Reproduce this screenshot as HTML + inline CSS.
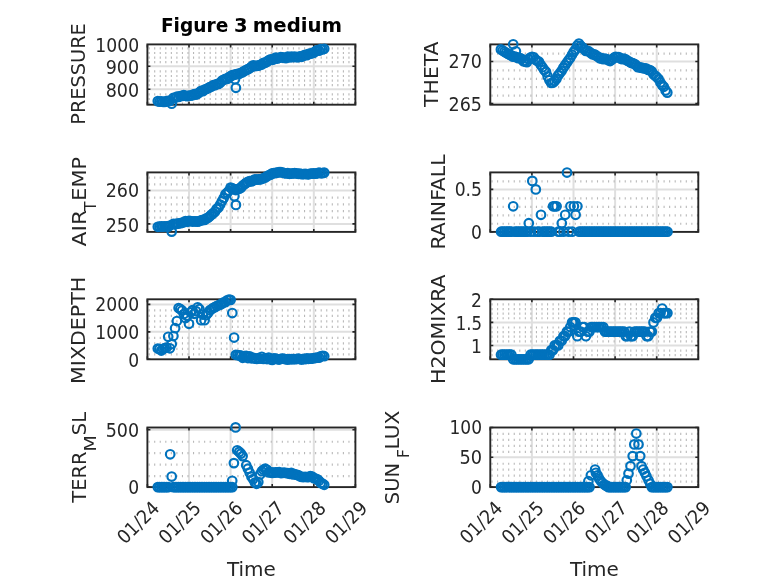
<!DOCTYPE html>
<html><head><meta charset="utf-8"><title>Figure 3 medium</title>
<style>html,body{margin:0;padding:0;background:#fff}svg{display:block}</style></head>
<body>
<svg width="778" height="583" viewBox="0 0 778 583" font-family="'DejaVu Sans Condensed','DejaVu Sans','Liberation Sans',sans-serif" fill="#262626">
<rect width="778" height="583" fill="#fff"/>
<g stroke="#dfdfdf" stroke-width="2"><line x1="189.00" y1="44.40" x2="189.00" y2="104.70"/><line x1="230.60" y1="44.40" x2="230.60" y2="104.70"/><line x1="272.20" y1="44.40" x2="272.20" y2="104.70"/><line x1="313.80" y1="44.40" x2="313.80" y2="104.70"/><line x1="147.40" y1="66.30" x2="355.40" y2="66.30"/><line x1="147.40" y1="89.30" x2="355.40" y2="89.30"/></g>
<g stroke="#b8b8b8" stroke-width="2.2" stroke-dasharray="1.1 4.45"><line x1="148.60" y1="48.40" x2="355.40" y2="48.40"/><line x1="148.60" y1="53.00" x2="355.40" y2="53.00"/><line x1="148.60" y1="57.60" x2="355.40" y2="57.60"/><line x1="148.60" y1="62.20" x2="355.40" y2="62.20"/><line x1="148.60" y1="71.40" x2="355.40" y2="71.40"/><line x1="148.60" y1="76.00" x2="355.40" y2="76.00"/><line x1="148.60" y1="80.60" x2="355.40" y2="80.60"/><line x1="148.60" y1="85.20" x2="355.40" y2="85.20"/><line x1="148.60" y1="94.40" x2="355.40" y2="94.40"/><line x1="148.60" y1="99.00" x2="355.40" y2="99.00"/><line x1="148.60" y1="103.60" x2="355.40" y2="103.60"/></g>
<path d="M147.40 104.70v-3M147.40 44.40v3M189.00 104.70v-3M189.00 44.40v3M230.60 104.70v-3M230.60 44.40v3M272.20 104.70v-3M272.20 44.40v3M313.80 104.70v-3M313.80 44.40v3M355.40 104.70v-3M355.40 44.40v3M147.40 66.30h3M355.40 66.30h-3M147.40 89.30h3M355.40 89.30h-3" stroke="#262626" stroke-width="1.6" fill="none"/>
<rect x="147.40" y="44.40" width="208.00" height="60.30" fill="none" stroke="#262626" stroke-width="1.9"/>
<g fill="none" stroke="#0072BD" stroke-width="2.15"><circle cx="157.8" cy="101.1" r="4.3"/><circle cx="159.5" cy="101.6" r="4.3"/><circle cx="161.3" cy="101.4" r="4.3"/><circle cx="163.0" cy="101.8" r="4.3"/><circle cx="164.7" cy="101.9" r="4.3"/><circle cx="166.5" cy="101.1" r="4.3"/><circle cx="168.2" cy="100.9" r="4.3"/><circle cx="169.9" cy="100.9" r="4.3"/><circle cx="171.7" cy="103.7" r="4.3"/><circle cx="173.4" cy="97.8" r="4.3"/><circle cx="175.1" cy="97.8" r="4.3"/><circle cx="176.9" cy="96.7" r="4.3"/><circle cx="178.6" cy="96.9" r="4.3"/><circle cx="180.3" cy="96.0" r="4.3"/><circle cx="182.1" cy="95.9" r="4.3"/><circle cx="183.8" cy="95.2" r="4.3"/><circle cx="185.5" cy="95.8" r="4.3"/><circle cx="187.3" cy="96.1" r="4.3"/><circle cx="189.0" cy="95.5" r="4.3"/><circle cx="190.7" cy="95.6" r="4.3"/><circle cx="192.5" cy="95.2" r="4.3"/><circle cx="194.2" cy="94.0" r="4.3"/><circle cx="195.9" cy="94.6" r="4.3"/><circle cx="197.7" cy="93.6" r="4.3"/><circle cx="199.4" cy="92.3" r="4.3"/><circle cx="201.1" cy="90.9" r="4.3"/><circle cx="202.9" cy="91.1" r="4.3"/><circle cx="204.6" cy="89.6" r="4.3"/><circle cx="206.3" cy="89.0" r="4.3"/><circle cx="208.1" cy="88.2" r="4.3"/><circle cx="209.8" cy="87.1" r="4.3"/><circle cx="211.5" cy="86.5" r="4.3"/><circle cx="213.3" cy="85.2" r="4.3"/><circle cx="215.0" cy="85.1" r="4.3"/><circle cx="216.7" cy="84.0" r="4.3"/><circle cx="218.5" cy="83.9" r="4.3"/><circle cx="220.2" cy="82.8" r="4.3"/><circle cx="221.9" cy="80.7" r="4.3"/><circle cx="223.7" cy="79.8" r="4.3"/><circle cx="225.4" cy="78.9" r="4.3"/><circle cx="227.1" cy="78.9" r="4.3"/><circle cx="228.9" cy="77.2" r="4.3"/><circle cx="230.6" cy="76.4" r="4.3"/><circle cx="232.3" cy="75.0" r="4.3"/><circle cx="234.1" cy="74.8" r="4.3"/><circle cx="235.8" cy="74.3" r="4.3"/><circle cx="237.5" cy="73.9" r="4.3"/><circle cx="239.3" cy="73.8" r="4.3"/><circle cx="241.0" cy="72.8" r="4.3"/><circle cx="242.7" cy="72.2" r="4.3"/><circle cx="244.5" cy="70.8" r="4.3"/><circle cx="246.2" cy="70.1" r="4.3"/><circle cx="247.9" cy="69.1" r="4.3"/><circle cx="249.7" cy="68.3" r="4.3"/><circle cx="251.4" cy="66.9" r="4.3"/><circle cx="253.1" cy="65.3" r="4.3"/><circle cx="254.9" cy="66.0" r="4.3"/><circle cx="256.6" cy="65.9" r="4.3"/><circle cx="258.3" cy="65.6" r="4.3"/><circle cx="260.1" cy="64.9" r="4.3"/><circle cx="261.8" cy="64.4" r="4.3"/><circle cx="263.5" cy="62.8" r="4.3"/><circle cx="265.3" cy="62.8" r="4.3"/><circle cx="267.0" cy="61.6" r="4.3"/><circle cx="268.7" cy="60.4" r="4.3"/><circle cx="270.5" cy="59.4" r="4.3"/><circle cx="272.2" cy="59.8" r="4.3"/><circle cx="273.9" cy="59.3" r="4.3"/><circle cx="275.7" cy="57.6" r="4.3"/><circle cx="277.4" cy="58.5" r="4.3"/><circle cx="279.1" cy="57.8" r="4.3"/><circle cx="280.9" cy="57.2" r="4.3"/><circle cx="282.6" cy="57.3" r="4.3"/><circle cx="284.3" cy="57.9" r="4.3"/><circle cx="286.1" cy="58.0" r="4.3"/><circle cx="287.8" cy="56.7" r="4.3"/><circle cx="289.5" cy="57.4" r="4.3"/><circle cx="291.3" cy="56.5" r="4.3"/><circle cx="293.0" cy="57.2" r="4.3"/><circle cx="294.7" cy="56.5" r="4.3"/><circle cx="296.5" cy="57.1" r="4.3"/><circle cx="298.2" cy="57.1" r="4.3"/><circle cx="299.9" cy="56.3" r="4.3"/><circle cx="301.7" cy="56.8" r="4.3"/><circle cx="303.4" cy="55.7" r="4.3"/><circle cx="305.1" cy="54.9" r="4.3"/><circle cx="306.9" cy="55.2" r="4.3"/><circle cx="308.6" cy="53.9" r="4.3"/><circle cx="310.3" cy="53.7" r="4.3"/><circle cx="312.1" cy="53.2" r="4.3"/><circle cx="313.8" cy="52.7" r="4.3"/><circle cx="315.5" cy="51.2" r="4.3"/><circle cx="317.3" cy="50.1" r="4.3"/><circle cx="319.0" cy="50.6" r="4.3"/><circle cx="320.7" cy="49.2" r="4.3"/><circle cx="322.5" cy="49.4" r="4.3"/><circle cx="324.2" cy="48.8" r="4.3"/><circle cx="235.9" cy="87.8" r="4.3"/><circle cx="235.0" cy="79.2" r="4.3"/></g>
<text x="139.1" y="51.5" text-anchor="end" font-size="19.1" textLength="43.8" lengthAdjust="spacingAndGlyphs">1000</text>
<text x="139.1" y="74.2" text-anchor="end" font-size="19.1" textLength="33.4" lengthAdjust="spacingAndGlyphs">900</text>
<text x="139.1" y="96.8" text-anchor="end" font-size="19.1" textLength="33.4" lengthAdjust="spacingAndGlyphs">800</text>
<text y="32" font-size="20.1" font-weight="bold" fill="#000"><tspan x="160.9" textLength="67.4" lengthAdjust="spacingAndGlyphs">Figure</tspan> <tspan x="233.9" textLength="13.6" lengthAdjust="spacingAndGlyphs">3</tspan> <tspan x="252.8" textLength="89.2" lengthAdjust="spacingAndGlyphs">medium</tspan></text>
<text transform="translate(84.8 74.0) rotate(-90)" text-anchor="middle" font-size="19.9" textLength="101.4" lengthAdjust="spacingAndGlyphs">PRESSURE</text>
<g stroke="#dfdfdf" stroke-width="2"><line x1="531.90" y1="44.40" x2="531.90" y2="104.70"/><line x1="573.50" y1="44.40" x2="573.50" y2="104.70"/><line x1="615.10" y1="44.40" x2="615.10" y2="104.70"/><line x1="656.70" y1="44.40" x2="656.70" y2="104.70"/><line x1="490.30" y1="61.50" x2="698.30" y2="61.50"/><line x1="490.30" y1="103.50" x2="698.30" y2="103.50"/></g>
<g stroke="#b8b8b8" stroke-width="2.2" stroke-dasharray="1.1 4.45"><line x1="491.50" y1="53.60" x2="698.30" y2="53.60"/><line x1="491.50" y1="70.40" x2="698.30" y2="70.40"/><line x1="491.50" y1="78.80" x2="698.30" y2="78.80"/><line x1="491.50" y1="87.20" x2="698.30" y2="87.20"/><line x1="491.50" y1="95.60" x2="698.30" y2="95.60"/></g>
<path d="M490.30 104.70v-3M490.30 44.40v3M531.90 104.70v-3M531.90 44.40v3M573.50 104.70v-3M573.50 44.40v3M615.10 104.70v-3M615.10 44.40v3M656.70 104.70v-3M656.70 44.40v3M698.30 104.70v-3M698.30 44.40v3M490.30 61.50h3M698.30 61.50h-3M490.30 103.50h3M698.30 103.50h-3" stroke="#262626" stroke-width="1.6" fill="none"/>
<rect x="490.30" y="44.40" width="208.00" height="60.30" fill="none" stroke="#262626" stroke-width="1.9"/>
<g fill="none" stroke="#0072BD" stroke-width="2.15"><circle cx="500.9" cy="49.4" r="4.3"/><circle cx="502.6" cy="50.5" r="4.3"/><circle cx="504.4" cy="51.6" r="4.3"/><circle cx="506.1" cy="52.8" r="4.3"/><circle cx="507.8" cy="53.7" r="4.3"/><circle cx="509.6" cy="54.6" r="4.3"/><circle cx="511.3" cy="55.4" r="4.3"/><circle cx="513.0" cy="56.6" r="4.3"/><circle cx="514.8" cy="56.5" r="4.3"/><circle cx="516.5" cy="57.1" r="4.3"/><circle cx="518.2" cy="58.2" r="4.3"/><circle cx="520.0" cy="58.0" r="4.3"/><circle cx="521.7" cy="58.9" r="4.3"/><circle cx="523.4" cy="61.1" r="4.3"/><circle cx="525.2" cy="61.6" r="4.3"/><circle cx="526.9" cy="62.2" r="4.3"/><circle cx="528.6" cy="59.1" r="4.3"/><circle cx="530.4" cy="57.5" r="4.3"/><circle cx="532.1" cy="56.8" r="4.3"/><circle cx="533.8" cy="57.3" r="4.3"/><circle cx="535.6" cy="59.6" r="4.3"/><circle cx="537.3" cy="61.0" r="4.3"/><circle cx="539.0" cy="61.7" r="4.3"/><circle cx="540.8" cy="65.0" r="4.3"/><circle cx="542.5" cy="67.2" r="4.3"/><circle cx="544.2" cy="69.9" r="4.3"/><circle cx="546.0" cy="71.9" r="4.3"/><circle cx="547.7" cy="76.4" r="4.3"/><circle cx="549.4" cy="80.3" r="4.3"/><circle cx="551.2" cy="83.0" r="4.3"/><circle cx="552.9" cy="82.6" r="4.3"/><circle cx="554.6" cy="81.1" r="4.3"/><circle cx="556.4" cy="79.0" r="4.3"/><circle cx="558.1" cy="75.4" r="4.3"/><circle cx="559.8" cy="73.2" r="4.3"/><circle cx="561.6" cy="70.9" r="4.3"/><circle cx="563.3" cy="67.9" r="4.3"/><circle cx="565.0" cy="65.4" r="4.3"/><circle cx="566.8" cy="62.7" r="4.3"/><circle cx="568.5" cy="60.2" r="4.3"/><circle cx="570.2" cy="58.0" r="4.3"/><circle cx="572.0" cy="54.7" r="4.3"/><circle cx="573.7" cy="51.9" r="4.3"/><circle cx="575.4" cy="49.6" r="4.3"/><circle cx="577.2" cy="45.5" r="4.3"/><circle cx="578.9" cy="43.5" r="4.3"/><circle cx="580.6" cy="45.8" r="4.3"/><circle cx="582.4" cy="47.4" r="4.3"/><circle cx="584.1" cy="49.0" r="4.3"/><circle cx="585.8" cy="50.9" r="4.3"/><circle cx="587.6" cy="50.9" r="4.3"/><circle cx="589.3" cy="51.7" r="4.3"/><circle cx="591.0" cy="53.1" r="4.3"/><circle cx="592.8" cy="54.4" r="4.3"/><circle cx="594.5" cy="54.4" r="4.3"/><circle cx="596.2" cy="55.7" r="4.3"/><circle cx="598.0" cy="56.7" r="4.3"/><circle cx="599.7" cy="58.3" r="4.3"/><circle cx="601.4" cy="58.1" r="4.3"/><circle cx="603.2" cy="59.2" r="4.3"/><circle cx="604.9" cy="58.5" r="4.3"/><circle cx="606.6" cy="59.2" r="4.3"/><circle cx="608.4" cy="60.2" r="4.3"/><circle cx="610.1" cy="61.0" r="4.3"/><circle cx="611.8" cy="59.7" r="4.3"/><circle cx="613.6" cy="58.1" r="4.3"/><circle cx="615.3" cy="56.8" r="4.3"/><circle cx="617.0" cy="57.0" r="4.3"/><circle cx="618.8" cy="57.0" r="4.3"/><circle cx="620.5" cy="58.5" r="4.3"/><circle cx="622.2" cy="59.2" r="4.3"/><circle cx="624.0" cy="58.7" r="4.3"/><circle cx="625.7" cy="59.4" r="4.3"/><circle cx="627.4" cy="60.8" r="4.3"/><circle cx="629.2" cy="61.5" r="4.3"/><circle cx="630.9" cy="62.8" r="4.3"/><circle cx="632.6" cy="63.2" r="4.3"/><circle cx="634.4" cy="63.9" r="4.3"/><circle cx="636.1" cy="65.2" r="4.3"/><circle cx="637.8" cy="67.1" r="4.3"/><circle cx="639.6" cy="67.3" r="4.3"/><circle cx="641.3" cy="67.7" r="4.3"/><circle cx="643.0" cy="68.1" r="4.3"/><circle cx="644.8" cy="68.4" r="4.3"/><circle cx="646.5" cy="68.7" r="4.3"/><circle cx="648.2" cy="69.9" r="4.3"/><circle cx="650.0" cy="70.1" r="4.3"/><circle cx="651.7" cy="71.3" r="4.3"/><circle cx="653.4" cy="74.2" r="4.3"/><circle cx="655.2" cy="75.6" r="4.3"/><circle cx="656.9" cy="77.2" r="4.3"/><circle cx="658.6" cy="79.0" r="4.3"/><circle cx="660.4" cy="82.5" r="4.3"/><circle cx="662.1" cy="85.1" r="4.3"/><circle cx="663.8" cy="86.8" r="4.3"/><circle cx="665.6" cy="90.5" r="4.3"/><circle cx="667.3" cy="92.6" r="4.3"/><circle cx="513.2" cy="44.3" r="4.3"/><circle cx="515.9" cy="51.3" r="4.3"/></g>
<text x="482.0" y="68.2" text-anchor="end" font-size="19.1" textLength="33.4" lengthAdjust="spacingAndGlyphs">270</text>
<text x="482.0" y="111.2" text-anchor="end" font-size="19.1" textLength="33.4" lengthAdjust="spacingAndGlyphs">265</text>
<text transform="translate(437.9 74.2) rotate(-90)" text-anchor="middle" font-size="19.9" textLength="65.4" lengthAdjust="spacingAndGlyphs">THETA</text>
<g stroke="#dfdfdf" stroke-width="2"><line x1="189.00" y1="172.40" x2="189.00" y2="231.90"/><line x1="230.60" y1="172.40" x2="230.60" y2="231.90"/><line x1="272.20" y1="172.40" x2="272.20" y2="231.90"/><line x1="313.80" y1="172.40" x2="313.80" y2="231.90"/><line x1="147.40" y1="190.50" x2="355.40" y2="190.50"/><line x1="147.40" y1="223.90" x2="355.40" y2="223.90"/></g>
<g stroke="#b8b8b8" stroke-width="2.2" stroke-dasharray="1.1 4.45"><line x1="148.60" y1="177.64" x2="355.40" y2="177.64"/><line x1="148.60" y1="184.32" x2="355.40" y2="184.32"/><line x1="148.60" y1="197.68" x2="355.40" y2="197.68"/><line x1="148.60" y1="204.36" x2="355.40" y2="204.36"/><line x1="148.60" y1="211.04" x2="355.40" y2="211.04"/><line x1="148.60" y1="217.72" x2="355.40" y2="217.72"/></g>
<path d="M147.40 231.90v-3M147.40 172.40v3M189.00 231.90v-3M189.00 172.40v3M230.60 231.90v-3M230.60 172.40v3M272.20 231.90v-3M272.20 172.40v3M313.80 231.90v-3M313.80 172.40v3M355.40 231.90v-3M355.40 172.40v3M147.40 190.50h3M355.40 190.50h-3M147.40 223.90h3M355.40 223.90h-3" stroke="#262626" stroke-width="1.6" fill="none"/>
<rect x="147.40" y="172.40" width="208.00" height="59.50" fill="none" stroke="#262626" stroke-width="1.9"/>
<g fill="none" stroke="#0072BD" stroke-width="2.15"><circle cx="157.8" cy="226.8" r="4.3"/><circle cx="159.5" cy="226.7" r="4.3"/><circle cx="161.3" cy="226.4" r="4.3"/><circle cx="163.0" cy="226.5" r="4.3"/><circle cx="164.7" cy="226.4" r="4.3"/><circle cx="166.5" cy="226.3" r="4.3"/><circle cx="168.2" cy="226.6" r="4.3"/><circle cx="169.9" cy="225.5" r="4.3"/><circle cx="171.7" cy="231.6" r="4.3"/><circle cx="173.4" cy="223.8" r="4.3"/><circle cx="175.1" cy="224.1" r="4.3"/><circle cx="176.9" cy="223.5" r="4.3"/><circle cx="178.6" cy="223.5" r="4.3"/><circle cx="180.3" cy="223.1" r="4.3"/><circle cx="182.1" cy="222.8" r="4.3"/><circle cx="183.8" cy="222.1" r="4.3"/><circle cx="185.5" cy="221.2" r="4.3"/><circle cx="187.3" cy="221.8" r="4.3"/><circle cx="189.0" cy="220.8" r="4.3"/><circle cx="190.7" cy="221.0" r="4.3"/><circle cx="192.5" cy="221.5" r="4.3"/><circle cx="194.2" cy="221.4" r="4.3"/><circle cx="195.9" cy="221.3" r="4.3"/><circle cx="197.7" cy="221.7" r="4.3"/><circle cx="199.4" cy="221.0" r="4.3"/><circle cx="201.1" cy="220.4" r="4.3"/><circle cx="202.9" cy="219.9" r="4.3"/><circle cx="204.6" cy="219.9" r="4.3"/><circle cx="206.3" cy="218.4" r="4.3"/><circle cx="208.1" cy="217.8" r="4.3"/><circle cx="209.8" cy="216.2" r="4.3"/><circle cx="211.5" cy="214.6" r="4.3"/><circle cx="213.3" cy="213.1" r="4.3"/><circle cx="215.0" cy="211.6" r="4.3"/><circle cx="216.7" cy="208.9" r="4.3"/><circle cx="218.5" cy="207.4" r="4.3"/><circle cx="220.2" cy="204.5" r="4.3"/><circle cx="221.9" cy="201.2" r="4.3"/><circle cx="223.7" cy="198.1" r="4.3"/><circle cx="225.4" cy="194.2" r="4.3"/><circle cx="227.1" cy="192.7" r="4.3"/><circle cx="228.9" cy="190.8" r="4.3"/><circle cx="230.6" cy="187.6" r="4.3"/><circle cx="232.3" cy="188.3" r="4.3"/><circle cx="234.1" cy="189.2" r="4.3"/><circle cx="235.8" cy="190.0" r="4.3"/><circle cx="237.5" cy="189.2" r="4.3"/><circle cx="239.3" cy="188.6" r="4.3"/><circle cx="241.0" cy="187.7" r="4.3"/><circle cx="242.7" cy="185.5" r="4.3"/><circle cx="244.5" cy="184.2" r="4.3"/><circle cx="246.2" cy="182.9" r="4.3"/><circle cx="247.9" cy="181.9" r="4.3"/><circle cx="249.7" cy="181.1" r="4.3"/><circle cx="251.4" cy="181.4" r="4.3"/><circle cx="253.1" cy="180.4" r="4.3"/><circle cx="254.9" cy="179.3" r="4.3"/><circle cx="256.6" cy="179.7" r="4.3"/><circle cx="258.3" cy="179.4" r="4.3"/><circle cx="260.1" cy="179.4" r="4.3"/><circle cx="261.8" cy="178.8" r="4.3"/><circle cx="263.5" cy="178.3" r="4.3"/><circle cx="265.3" cy="177.4" r="4.3"/><circle cx="267.0" cy="176.3" r="4.3"/><circle cx="268.7" cy="175.3" r="4.3"/><circle cx="270.5" cy="174.6" r="4.3"/><circle cx="272.2" cy="173.4" r="4.3"/><circle cx="273.9" cy="173.1" r="4.3"/><circle cx="275.7" cy="172.9" r="4.3"/><circle cx="277.4" cy="172.5" r="4.3"/><circle cx="279.1" cy="172.1" r="4.3"/><circle cx="280.9" cy="172.2" r="4.3"/><circle cx="282.6" cy="172.5" r="4.3"/><circle cx="284.3" cy="173.0" r="4.3"/><circle cx="286.1" cy="173.4" r="4.3"/><circle cx="287.8" cy="173.1" r="4.3"/><circle cx="289.5" cy="173.8" r="4.3"/><circle cx="291.3" cy="173.5" r="4.3"/><circle cx="293.0" cy="173.3" r="4.3"/><circle cx="294.7" cy="173.2" r="4.3"/><circle cx="296.5" cy="173.4" r="4.3"/><circle cx="298.2" cy="173.8" r="4.3"/><circle cx="299.9" cy="173.6" r="4.3"/><circle cx="301.7" cy="174.1" r="4.3"/><circle cx="303.4" cy="174.0" r="4.3"/><circle cx="305.1" cy="173.8" r="4.3"/><circle cx="306.9" cy="174.1" r="4.3"/><circle cx="308.6" cy="174.3" r="4.3"/><circle cx="310.3" cy="173.6" r="4.3"/><circle cx="312.1" cy="173.7" r="4.3"/><circle cx="313.8" cy="173.4" r="4.3"/><circle cx="315.5" cy="173.6" r="4.3"/><circle cx="317.3" cy="173.3" r="4.3"/><circle cx="319.0" cy="172.5" r="4.3"/><circle cx="320.7" cy="173.2" r="4.3"/><circle cx="322.5" cy="173.2" r="4.3"/><circle cx="324.2" cy="172.6" r="4.3"/><circle cx="235.9" cy="204.9" r="4.3"/><circle cx="234.4" cy="196.3" r="4.3"/></g>
<text x="139.1" y="197.3" text-anchor="end" font-size="19.1" textLength="33.4" lengthAdjust="spacingAndGlyphs">260</text>
<text x="139.1" y="232.1" text-anchor="end" font-size="19.1" textLength="33.4" lengthAdjust="spacingAndGlyphs">250</text>
<g transform="translate(86.0 0) rotate(-90)"><text x="-246.5" y="0" font-size="19.9" textLength="36.6" lengthAdjust="spacingAndGlyphs">AIR</text><text x="-211.0" y="10.0" font-size="15.1" textLength="9.4" lengthAdjust="spacingAndGlyphs">T</text><text x="-200.8" y="0" font-size="19.9" textLength="43.8" lengthAdjust="spacingAndGlyphs">EMP</text></g>
<g stroke="#dfdfdf" stroke-width="2"><line x1="531.90" y1="172.40" x2="531.90" y2="231.90"/><line x1="573.50" y1="172.40" x2="573.50" y2="231.90"/><line x1="615.10" y1="172.40" x2="615.10" y2="231.90"/><line x1="656.70" y1="172.40" x2="656.70" y2="231.90"/><line x1="490.30" y1="189.40" x2="698.30" y2="189.40"/></g>
<g stroke="#b8b8b8" stroke-width="2.2" stroke-dasharray="1.1 4.45"><line x1="491.50" y1="223.74" x2="698.30" y2="223.74"/><line x1="491.50" y1="215.28" x2="698.30" y2="215.28"/><line x1="491.50" y1="206.82" x2="698.30" y2="206.82"/><line x1="491.50" y1="198.36" x2="698.30" y2="198.36"/><line x1="491.50" y1="181.44" x2="698.30" y2="181.44"/></g>
<path d="M490.30 231.90v-3M490.30 172.40v3M531.90 231.90v-3M531.90 172.40v3M573.50 231.90v-3M573.50 172.40v3M615.10 231.90v-3M615.10 172.40v3M656.70 231.90v-3M656.70 172.40v3M698.30 231.90v-3M698.30 172.40v3M490.30 189.40h3M698.30 189.40h-3M490.30 231.70h3M698.30 231.70h-3" stroke="#262626" stroke-width="1.6" fill="none"/>
<rect x="490.30" y="172.40" width="208.00" height="59.50" fill="none" stroke="#262626" stroke-width="1.9"/>
<g fill="none" stroke="#0072BD" stroke-width="2.15"><circle cx="501.1" cy="231.7" r="4.3"/><circle cx="502.8" cy="231.7" r="4.3"/><circle cx="504.6" cy="231.7" r="4.3"/><circle cx="506.3" cy="231.7" r="4.3"/><circle cx="508.0" cy="231.7" r="4.3"/><circle cx="509.8" cy="231.7" r="4.3"/><circle cx="511.5" cy="231.7" r="4.3"/><circle cx="513.2" cy="206.3" r="4.3"/><circle cx="515.0" cy="231.7" r="4.3"/><circle cx="516.7" cy="231.7" r="4.3"/><circle cx="518.4" cy="231.7" r="4.3"/><circle cx="520.2" cy="231.7" r="4.3"/><circle cx="521.9" cy="231.7" r="4.3"/><circle cx="523.6" cy="231.7" r="4.3"/><circle cx="525.4" cy="231.7" r="4.3"/><circle cx="527.1" cy="231.7" r="4.3"/><circle cx="528.8" cy="223.2" r="4.3"/><circle cx="530.6" cy="231.7" r="4.3"/><circle cx="532.3" cy="180.9" r="4.3"/><circle cx="534.0" cy="231.7" r="4.3"/><circle cx="535.8" cy="189.4" r="4.3"/><circle cx="537.5" cy="231.7" r="4.3"/><circle cx="539.2" cy="231.7" r="4.3"/><circle cx="541.0" cy="214.8" r="4.3"/><circle cx="542.7" cy="231.7" r="4.3"/><circle cx="544.4" cy="231.7" r="4.3"/><circle cx="546.2" cy="231.7" r="4.3"/><circle cx="547.9" cy="231.7" r="4.3"/><circle cx="549.6" cy="231.7" r="4.3"/><circle cx="551.4" cy="231.7" r="4.3"/><circle cx="553.1" cy="206.3" r="4.3"/><circle cx="554.8" cy="206.3" r="4.3"/><circle cx="556.6" cy="206.3" r="4.3"/><circle cx="558.3" cy="231.7" r="4.3"/><circle cx="560.0" cy="231.7" r="4.3"/><circle cx="561.8" cy="223.2" r="4.3"/><circle cx="563.5" cy="231.7" r="4.3"/><circle cx="565.2" cy="214.8" r="4.3"/><circle cx="567.0" cy="172.5" r="4.3"/><circle cx="568.7" cy="231.7" r="4.3"/><circle cx="570.4" cy="206.3" r="4.3"/><circle cx="572.2" cy="231.7" r="4.3"/><circle cx="573.9" cy="206.3" r="4.3"/><circle cx="575.6" cy="214.8" r="4.3"/><circle cx="577.4" cy="206.3" r="4.3"/><circle cx="579.1" cy="231.7" r="4.3"/><circle cx="580.8" cy="231.7" r="4.3"/><circle cx="582.6" cy="231.7" r="4.3"/><circle cx="584.3" cy="231.7" r="4.3"/><circle cx="586.0" cy="231.7" r="4.3"/><circle cx="587.8" cy="231.7" r="4.3"/><circle cx="589.5" cy="231.7" r="4.3"/><circle cx="591.2" cy="231.7" r="4.3"/><circle cx="593.0" cy="231.7" r="4.3"/><circle cx="594.7" cy="231.7" r="4.3"/><circle cx="596.4" cy="231.7" r="4.3"/><circle cx="598.2" cy="231.7" r="4.3"/><circle cx="599.9" cy="231.7" r="4.3"/><circle cx="601.6" cy="231.7" r="4.3"/><circle cx="603.4" cy="231.7" r="4.3"/><circle cx="605.1" cy="231.7" r="4.3"/><circle cx="606.8" cy="231.7" r="4.3"/><circle cx="608.6" cy="231.7" r="4.3"/><circle cx="610.3" cy="231.7" r="4.3"/><circle cx="612.0" cy="231.7" r="4.3"/><circle cx="613.8" cy="231.7" r="4.3"/><circle cx="615.5" cy="231.7" r="4.3"/><circle cx="617.2" cy="231.7" r="4.3"/><circle cx="619.0" cy="231.7" r="4.3"/><circle cx="620.7" cy="231.7" r="4.3"/><circle cx="622.4" cy="231.7" r="4.3"/><circle cx="624.2" cy="231.7" r="4.3"/><circle cx="625.9" cy="231.7" r="4.3"/><circle cx="627.6" cy="231.7" r="4.3"/><circle cx="629.4" cy="231.7" r="4.3"/><circle cx="631.1" cy="231.7" r="4.3"/><circle cx="632.8" cy="231.7" r="4.3"/><circle cx="634.6" cy="231.7" r="4.3"/><circle cx="636.3" cy="231.7" r="4.3"/><circle cx="638.0" cy="231.7" r="4.3"/><circle cx="639.8" cy="231.7" r="4.3"/><circle cx="641.5" cy="231.7" r="4.3"/><circle cx="643.2" cy="231.7" r="4.3"/><circle cx="645.0" cy="231.7" r="4.3"/><circle cx="646.7" cy="231.7" r="4.3"/><circle cx="648.4" cy="231.7" r="4.3"/><circle cx="650.2" cy="231.7" r="4.3"/><circle cx="651.9" cy="231.7" r="4.3"/><circle cx="653.6" cy="231.7" r="4.3"/><circle cx="655.4" cy="231.7" r="4.3"/><circle cx="657.1" cy="231.7" r="4.3"/><circle cx="658.8" cy="231.7" r="4.3"/><circle cx="660.6" cy="231.7" r="4.3"/><circle cx="662.3" cy="231.7" r="4.3"/><circle cx="664.0" cy="231.7" r="4.3"/><circle cx="665.8" cy="231.7" r="4.3"/><circle cx="667.5" cy="231.7" r="4.3"/></g>
<text x="482.0" y="196.3" text-anchor="end" font-size="19.1" textLength="27.3" lengthAdjust="spacingAndGlyphs">0.5</text>
<text x="482.0" y="238.9" text-anchor="end" font-size="19.1" textLength="10.9" lengthAdjust="spacingAndGlyphs">0</text>
<text transform="translate(445.1 201.9) rotate(-90)" text-anchor="middle" font-size="19.9" textLength="95.1" lengthAdjust="spacingAndGlyphs">RAINFALL</text>
<g stroke="#dfdfdf" stroke-width="2"><line x1="189.00" y1="299.30" x2="189.00" y2="359.30"/><line x1="230.60" y1="299.30" x2="230.60" y2="359.30"/><line x1="272.20" y1="299.30" x2="272.20" y2="359.30"/><line x1="313.80" y1="299.30" x2="313.80" y2="359.30"/><line x1="147.40" y1="304.40" x2="355.40" y2="304.40"/><line x1="147.40" y1="331.85" x2="355.40" y2="331.85"/></g>
<g stroke="#b8b8b8" stroke-width="2.2" stroke-dasharray="1.1 4.45"><line x1="148.60" y1="354.31" x2="355.40" y2="354.31"/><line x1="148.60" y1="348.82" x2="355.40" y2="348.82"/><line x1="148.60" y1="343.33" x2="355.40" y2="343.33"/><line x1="148.60" y1="337.84" x2="355.40" y2="337.84"/><line x1="148.60" y1="326.86" x2="355.40" y2="326.86"/><line x1="148.60" y1="321.37" x2="355.40" y2="321.37"/><line x1="148.60" y1="315.88" x2="355.40" y2="315.88"/><line x1="148.60" y1="310.39" x2="355.40" y2="310.39"/></g>
<path d="M147.40 359.30v-3M147.40 299.30v3M189.00 359.30v-3M189.00 299.30v3M230.60 359.30v-3M230.60 299.30v3M272.20 359.30v-3M272.20 299.30v3M313.80 359.30v-3M313.80 299.30v3M355.40 359.30v-3M355.40 299.30v3M147.40 304.40h3M355.40 304.40h-3M147.40 331.85h3M355.40 331.85h-3M147.40 359.30h3M355.40 359.30h-3" stroke="#262626" stroke-width="1.6" fill="none"/>
<rect x="147.40" y="299.30" width="208.00" height="60.00" fill="none" stroke="#262626" stroke-width="1.9"/>
<g fill="none" stroke="#0072BD" stroke-width="2.15"><circle cx="157.8" cy="348.5" r="4.3"/><circle cx="159.5" cy="349.0" r="4.3"/><circle cx="161.3" cy="350.5" r="4.3"/><circle cx="163.0" cy="349.0" r="4.3"/><circle cx="164.7" cy="348.0" r="4.3"/><circle cx="166.5" cy="347.5" r="4.3"/><circle cx="168.2" cy="336.8" r="4.3"/><circle cx="169.9" cy="348.3" r="4.3"/><circle cx="171.7" cy="344.0" r="4.3"/><circle cx="173.4" cy="336.0" r="4.3"/><circle cx="175.1" cy="328.2" r="4.3"/><circle cx="176.9" cy="321.0" r="4.3"/><circle cx="178.6" cy="308.0" r="4.3"/><circle cx="180.3" cy="309.0" r="4.3"/><circle cx="182.1" cy="310.5" r="4.3"/><circle cx="183.8" cy="314.0" r="4.3"/><circle cx="185.5" cy="318.0" r="4.3"/><circle cx="187.3" cy="316.0" r="4.3"/><circle cx="189.0" cy="323.8" r="4.3"/><circle cx="190.7" cy="312.3" r="4.3"/><circle cx="192.5" cy="310.2" r="4.3"/><circle cx="194.2" cy="313.8" r="4.3"/><circle cx="195.9" cy="311.0" r="4.3"/><circle cx="197.7" cy="307.3" r="4.3"/><circle cx="199.4" cy="309.0" r="4.3"/><circle cx="201.1" cy="320.2" r="4.3"/><circle cx="202.9" cy="314.5" r="4.3"/><circle cx="204.6" cy="320.2" r="4.3"/><circle cx="206.3" cy="315.0" r="4.3"/><circle cx="208.1" cy="312.9" r="4.3"/><circle cx="209.8" cy="310.3" r="4.3"/><circle cx="211.5" cy="309.3" r="4.3"/><circle cx="213.3" cy="307.8" r="4.3"/><circle cx="215.0" cy="307.2" r="4.3"/><circle cx="216.7" cy="306.0" r="4.3"/><circle cx="218.5" cy="305.3" r="4.3"/><circle cx="220.2" cy="304.6" r="4.3"/><circle cx="221.9" cy="303.6" r="4.3"/><circle cx="223.7" cy="302.3" r="4.3"/><circle cx="225.4" cy="302.2" r="4.3"/><circle cx="227.1" cy="300.3" r="4.3"/><circle cx="228.9" cy="299.7" r="4.3"/><circle cx="230.6" cy="299.9" r="4.3"/><circle cx="232.3" cy="313.0" r="4.3"/><circle cx="234.1" cy="337.5" r="4.3"/><circle cx="235.8" cy="354.8" r="4.3"/><circle cx="237.5" cy="355.0" r="4.3"/><circle cx="239.3" cy="355.4" r="4.3"/><circle cx="241.0" cy="355.6" r="4.3"/><circle cx="242.7" cy="357.8" r="4.3"/><circle cx="244.5" cy="356.0" r="4.3"/><circle cx="246.2" cy="355.8" r="4.3"/><circle cx="247.9" cy="358.0" r="4.3"/><circle cx="249.7" cy="356.3" r="4.3"/><circle cx="251.4" cy="358.3" r="4.3"/><circle cx="253.1" cy="357.9" r="4.3"/><circle cx="254.9" cy="358.5" r="4.3"/><circle cx="256.6" cy="358.9" r="4.3"/><circle cx="258.3" cy="358.0" r="4.3"/><circle cx="260.1" cy="358.7" r="4.3"/><circle cx="261.8" cy="356.8" r="4.3"/><circle cx="263.5" cy="358.9" r="4.3"/><circle cx="265.3" cy="358.3" r="4.3"/><circle cx="267.0" cy="359.0" r="4.3"/><circle cx="268.7" cy="357.5" r="4.3"/><circle cx="270.5" cy="359.3" r="4.3"/><circle cx="272.2" cy="359.9" r="4.3"/><circle cx="273.9" cy="358.3" r="4.3"/><circle cx="275.7" cy="358.7" r="4.3"/><circle cx="277.4" cy="359.1" r="4.3"/><circle cx="279.1" cy="359.5" r="4.3"/><circle cx="280.9" cy="358.8" r="4.3"/><circle cx="282.6" cy="358.7" r="4.3"/><circle cx="284.3" cy="358.9" r="4.3"/><circle cx="286.1" cy="359.3" r="4.3"/><circle cx="287.8" cy="359.5" r="4.3"/><circle cx="289.5" cy="359.1" r="4.3"/><circle cx="291.3" cy="359.1" r="4.3"/><circle cx="293.0" cy="359.1" r="4.3"/><circle cx="294.7" cy="359.0" r="4.3"/><circle cx="296.5" cy="359.0" r="4.3"/><circle cx="298.2" cy="358.5" r="4.3"/><circle cx="299.9" cy="359.0" r="4.3"/><circle cx="301.7" cy="359.5" r="4.3"/><circle cx="303.4" cy="358.8" r="4.3"/><circle cx="305.1" cy="359.1" r="4.3"/><circle cx="306.9" cy="358.3" r="4.3"/><circle cx="308.6" cy="358.8" r="4.3"/><circle cx="310.3" cy="358.7" r="4.3"/><circle cx="312.1" cy="358.5" r="4.3"/><circle cx="313.8" cy="358.1" r="4.3"/><circle cx="315.5" cy="357.9" r="4.3"/><circle cx="317.3" cy="357.7" r="4.3"/><circle cx="319.0" cy="357.6" r="4.3"/><circle cx="320.7" cy="356.3" r="4.3"/><circle cx="322.5" cy="355.8" r="4.3"/><circle cx="324.2" cy="356.2" r="4.3"/></g>
<text x="139.1" y="311.4" text-anchor="end" font-size="19.1" textLength="43.8" lengthAdjust="spacingAndGlyphs">2000</text>
<text x="139.1" y="339.1" text-anchor="end" font-size="19.1" textLength="43.8" lengthAdjust="spacingAndGlyphs">1000</text>
<text x="139.1" y="366.6" text-anchor="end" font-size="19.1" textLength="10.9" lengthAdjust="spacingAndGlyphs">0</text>
<text transform="translate(84.7 330.3) rotate(-90)" text-anchor="middle" font-size="19.9" textLength="107.2" lengthAdjust="spacingAndGlyphs">MIXDEPTH</text>
<g stroke="#dfdfdf" stroke-width="2"><line x1="531.90" y1="299.30" x2="531.90" y2="359.30"/><line x1="573.50" y1="299.30" x2="573.50" y2="359.30"/><line x1="615.10" y1="299.30" x2="615.10" y2="359.30"/><line x1="656.70" y1="299.30" x2="656.70" y2="359.30"/><line x1="490.30" y1="322.38" x2="698.30" y2="322.38"/><line x1="490.30" y1="345.45" x2="698.30" y2="345.45"/></g>
<g stroke="#b8b8b8" stroke-width="2.2" stroke-dasharray="1.1 4.45"><line x1="491.50" y1="355.18" x2="698.30" y2="355.18"/><line x1="491.50" y1="350.56" x2="698.30" y2="350.56"/><line x1="491.50" y1="341.33" x2="698.30" y2="341.33"/><line x1="491.50" y1="336.72" x2="698.30" y2="336.72"/><line x1="491.50" y1="332.10" x2="698.30" y2="332.10"/><line x1="491.50" y1="327.49" x2="698.30" y2="327.49"/><line x1="491.50" y1="318.26" x2="698.30" y2="318.26"/><line x1="491.50" y1="313.64" x2="698.30" y2="313.64"/><line x1="491.50" y1="309.03" x2="698.30" y2="309.03"/><line x1="491.50" y1="304.41" x2="698.30" y2="304.41"/></g>
<path d="M490.30 359.30v-3M490.30 299.30v3M531.90 359.30v-3M531.90 299.30v3M573.50 359.30v-3M573.50 299.30v3M615.10 359.30v-3M615.10 299.30v3M656.70 359.30v-3M656.70 299.30v3M698.30 359.30v-3M698.30 299.30v3M490.30 299.30h3M698.30 299.30h-3M490.30 322.38h3M698.30 322.38h-3M490.30 345.45h3M698.30 345.45h-3" stroke="#262626" stroke-width="1.6" fill="none"/>
<rect x="490.30" y="299.30" width="208.00" height="60.00" fill="none" stroke="#262626" stroke-width="1.9"/>
<g fill="none" stroke="#0072BD" stroke-width="2.15"><circle cx="501.0" cy="354.7" r="4.3"/><circle cx="502.7" cy="354.7" r="4.3"/><circle cx="504.5" cy="354.7" r="4.3"/><circle cx="506.2" cy="354.7" r="4.3"/><circle cx="507.9" cy="354.7" r="4.3"/><circle cx="509.7" cy="354.7" r="4.3"/><circle cx="511.4" cy="354.7" r="4.3"/><circle cx="513.1" cy="359.3" r="4.3"/><circle cx="514.9" cy="359.3" r="4.3"/><circle cx="516.6" cy="359.3" r="4.3"/><circle cx="518.3" cy="359.3" r="4.3"/><circle cx="520.1" cy="359.3" r="4.3"/><circle cx="521.8" cy="359.3" r="4.3"/><circle cx="523.5" cy="359.3" r="4.3"/><circle cx="525.3" cy="359.3" r="4.3"/><circle cx="527.0" cy="359.3" r="4.3"/><circle cx="528.7" cy="359.3" r="4.3"/><circle cx="530.5" cy="354.7" r="4.3"/><circle cx="532.2" cy="354.7" r="4.3"/><circle cx="533.9" cy="354.7" r="4.3"/><circle cx="535.7" cy="354.7" r="4.3"/><circle cx="537.4" cy="354.7" r="4.3"/><circle cx="539.1" cy="354.7" r="4.3"/><circle cx="540.9" cy="354.7" r="4.3"/><circle cx="542.6" cy="354.7" r="4.3"/><circle cx="544.3" cy="354.7" r="4.3"/><circle cx="546.1" cy="354.7" r="4.3"/><circle cx="547.8" cy="354.7" r="4.3"/><circle cx="549.5" cy="354.7" r="4.3"/><circle cx="551.3" cy="350.1" r="4.3"/><circle cx="553.0" cy="350.1" r="4.3"/><circle cx="554.7" cy="345.4" r="4.3"/><circle cx="556.5" cy="345.4" r="4.3"/><circle cx="558.2" cy="345.4" r="4.3"/><circle cx="559.9" cy="340.8" r="4.3"/><circle cx="561.7" cy="340.8" r="4.3"/><circle cx="563.4" cy="336.2" r="4.3"/><circle cx="565.1" cy="336.2" r="4.3"/><circle cx="566.9" cy="331.6" r="4.3"/><circle cx="568.6" cy="331.6" r="4.3"/><circle cx="570.3" cy="327.0" r="4.3"/><circle cx="572.1" cy="322.4" r="4.3"/><circle cx="573.8" cy="322.4" r="4.3"/><circle cx="575.5" cy="322.4" r="4.3"/><circle cx="577.3" cy="336.2" r="4.3"/><circle cx="579.0" cy="331.6" r="4.3"/><circle cx="580.7" cy="331.6" r="4.3"/><circle cx="582.5" cy="327.0" r="4.3"/><circle cx="584.2" cy="327.0" r="4.3"/><circle cx="585.9" cy="336.2" r="4.3"/><circle cx="587.7" cy="331.6" r="4.3"/><circle cx="589.4" cy="331.6" r="4.3"/><circle cx="591.1" cy="327.0" r="4.3"/><circle cx="592.9" cy="327.0" r="4.3"/><circle cx="594.6" cy="327.0" r="4.3"/><circle cx="596.3" cy="327.0" r="4.3"/><circle cx="598.1" cy="327.0" r="4.3"/><circle cx="599.8" cy="327.0" r="4.3"/><circle cx="601.5" cy="327.0" r="4.3"/><circle cx="603.3" cy="327.0" r="4.3"/><circle cx="605.0" cy="331.6" r="4.3"/><circle cx="606.7" cy="331.6" r="4.3"/><circle cx="608.5" cy="331.6" r="4.3"/><circle cx="610.2" cy="331.6" r="4.3"/><circle cx="611.9" cy="331.6" r="4.3"/><circle cx="613.7" cy="331.6" r="4.3"/><circle cx="615.4" cy="331.6" r="4.3"/><circle cx="617.1" cy="331.6" r="4.3"/><circle cx="618.9" cy="331.6" r="4.3"/><circle cx="620.6" cy="331.6" r="4.3"/><circle cx="622.3" cy="331.6" r="4.3"/><circle cx="624.1" cy="331.6" r="4.3"/><circle cx="625.8" cy="336.2" r="4.3"/><circle cx="627.5" cy="336.2" r="4.3"/><circle cx="629.3" cy="331.6" r="4.3"/><circle cx="631.0" cy="336.2" r="4.3"/><circle cx="632.7" cy="336.2" r="4.3"/><circle cx="634.5" cy="331.6" r="4.3"/><circle cx="636.2" cy="331.6" r="4.3"/><circle cx="637.9" cy="331.6" r="4.3"/><circle cx="639.7" cy="331.6" r="4.3"/><circle cx="641.4" cy="331.6" r="4.3"/><circle cx="643.1" cy="331.6" r="4.3"/><circle cx="644.9" cy="331.6" r="4.3"/><circle cx="646.6" cy="336.2" r="4.3"/><circle cx="648.3" cy="336.2" r="4.3"/><circle cx="650.1" cy="331.6" r="4.3"/><circle cx="651.8" cy="331.6" r="4.3"/><circle cx="653.5" cy="322.4" r="4.3"/><circle cx="655.3" cy="317.8" r="4.3"/><circle cx="657.0" cy="317.8" r="4.3"/><circle cx="658.7" cy="313.1" r="4.3"/><circle cx="660.5" cy="313.1" r="4.3"/><circle cx="662.2" cy="308.5" r="4.3"/><circle cx="663.9" cy="313.1" r="4.3"/><circle cx="665.7" cy="313.1" r="4.3"/><circle cx="667.4" cy="313.1" r="4.3"/></g>
<text x="482.0" y="306.8" text-anchor="end" font-size="19.1" textLength="10.9" lengthAdjust="spacingAndGlyphs">2</text>
<text x="482.0" y="330.2" text-anchor="end" font-size="19.1" textLength="26.3" lengthAdjust="spacingAndGlyphs">1.5</text>
<text x="482.0" y="352.8" text-anchor="end" font-size="19.1" textLength="10.9" lengthAdjust="spacingAndGlyphs">1</text>
<text transform="translate(445.1 329.2) rotate(-90)" text-anchor="middle" font-size="19.9" textLength="109.5" lengthAdjust="spacingAndGlyphs">H2OMIXRA</text>
<g stroke="#dfdfdf" stroke-width="2"><line x1="189.00" y1="427.50" x2="189.00" y2="487.10"/><line x1="230.60" y1="427.50" x2="230.60" y2="487.10"/><line x1="272.20" y1="427.50" x2="272.20" y2="487.10"/><line x1="313.80" y1="427.50" x2="313.80" y2="487.10"/><line x1="147.40" y1="429.80" x2="355.40" y2="429.80"/></g>
<g stroke="#b8b8b8" stroke-width="2.2" stroke-dasharray="1.1 4.45"><line x1="148.60" y1="476.14" x2="355.40" y2="476.14"/><line x1="148.60" y1="464.68" x2="355.40" y2="464.68"/><line x1="148.60" y1="453.22" x2="355.40" y2="453.22"/><line x1="148.60" y1="441.76" x2="355.40" y2="441.76"/></g>
<path d="M147.40 487.10v-3M147.40 427.50v3M189.00 487.10v-3M189.00 427.50v3M230.60 487.10v-3M230.60 427.50v3M272.20 487.10v-3M272.20 427.50v3M313.80 487.10v-3M313.80 427.50v3M355.40 487.10v-3M355.40 427.50v3M147.40 429.80h3M355.40 429.80h-3M147.40 487.10h3M355.40 487.10h-3" stroke="#262626" stroke-width="1.6" fill="none"/>
<rect x="147.40" y="427.50" width="208.00" height="59.60" fill="none" stroke="#262626" stroke-width="1.9"/>
<g fill="none" stroke="#0072BD" stroke-width="2.15"><circle cx="157.8" cy="487.1" r="4.3"/><circle cx="159.5" cy="487.1" r="4.3"/><circle cx="161.3" cy="487.1" r="4.3"/><circle cx="163.0" cy="487.1" r="4.3"/><circle cx="164.7" cy="487.1" r="4.3"/><circle cx="166.5" cy="487.1" r="4.3"/><circle cx="168.2" cy="487.1" r="4.3"/><circle cx="173.4" cy="487.1" r="4.3"/><circle cx="175.1" cy="487.1" r="4.3"/><circle cx="176.9" cy="487.1" r="4.3"/><circle cx="178.6" cy="487.1" r="4.3"/><circle cx="180.3" cy="487.1" r="4.3"/><circle cx="182.1" cy="487.1" r="4.3"/><circle cx="183.8" cy="487.1" r="4.3"/><circle cx="185.5" cy="487.1" r="4.3"/><circle cx="187.3" cy="487.1" r="4.3"/><circle cx="189.0" cy="487.1" r="4.3"/><circle cx="190.7" cy="487.1" r="4.3"/><circle cx="192.5" cy="487.1" r="4.3"/><circle cx="194.2" cy="487.1" r="4.3"/><circle cx="195.9" cy="487.1" r="4.3"/><circle cx="197.7" cy="487.1" r="4.3"/><circle cx="199.4" cy="487.1" r="4.3"/><circle cx="201.1" cy="487.1" r="4.3"/><circle cx="202.9" cy="487.1" r="4.3"/><circle cx="204.6" cy="487.1" r="4.3"/><circle cx="206.3" cy="487.1" r="4.3"/><circle cx="208.1" cy="487.1" r="4.3"/><circle cx="209.8" cy="487.1" r="4.3"/><circle cx="211.5" cy="487.1" r="4.3"/><circle cx="213.3" cy="487.1" r="4.3"/><circle cx="215.0" cy="487.1" r="4.3"/><circle cx="216.7" cy="487.1" r="4.3"/><circle cx="218.5" cy="487.1" r="4.3"/><circle cx="220.2" cy="487.1" r="4.3"/><circle cx="221.9" cy="487.1" r="4.3"/><circle cx="223.7" cy="487.1" r="4.3"/><circle cx="225.4" cy="487.1" r="4.3"/><circle cx="227.1" cy="487.1" r="4.3"/><circle cx="228.9" cy="487.1" r="4.3"/><circle cx="230.6" cy="487.1" r="4.3"/><circle cx="232.3" cy="487.1" r="4.3"/><circle cx="170.2" cy="454.3" r="4.3"/><circle cx="171.7" cy="476.5" r="4.3"/><circle cx="232.2" cy="480.8" r="4.3"/><circle cx="233.9" cy="463.1" r="4.3"/><circle cx="235.6" cy="427.4" r="4.3"/><circle cx="237.2" cy="450.3" r="4.3"/><circle cx="239.2" cy="451.9" r="4.3"/><circle cx="240.9" cy="453.6" r="4.3"/><circle cx="242.6" cy="456.1" r="4.3"/><circle cx="246.2" cy="465.2" r="4.3"/><circle cx="247.9" cy="468.7" r="4.3"/><circle cx="249.7" cy="472.7" r="4.3"/><circle cx="251.4" cy="476.6" r="4.3"/><circle cx="253.1" cy="479.1" r="4.3"/><circle cx="254.9" cy="482.5" r="4.3"/><circle cx="256.6" cy="483.8" r="4.3"/><circle cx="258.3" cy="482.1" r="4.3"/><circle cx="260.1" cy="474.4" r="4.3"/><circle cx="261.8" cy="471.2" r="4.3"/><circle cx="263.5" cy="469.7" r="4.3"/><circle cx="265.3" cy="468.7" r="4.3"/><circle cx="267.0" cy="469.8" r="4.3"/><circle cx="268.7" cy="472.4" r="4.3"/><circle cx="270.5" cy="472.1" r="4.3"/><circle cx="272.2" cy="472.9" r="4.3"/><circle cx="273.9" cy="472.7" r="4.3"/><circle cx="275.7" cy="472.3" r="4.3"/><circle cx="277.4" cy="472.4" r="4.3"/><circle cx="279.1" cy="472.1" r="4.3"/><circle cx="280.9" cy="473.0" r="4.3"/><circle cx="282.6" cy="472.9" r="4.3"/><circle cx="284.3" cy="472.6" r="4.3"/><circle cx="286.1" cy="473.0" r="4.3"/><circle cx="287.8" cy="473.0" r="4.3"/><circle cx="289.5" cy="473.8" r="4.3"/><circle cx="291.3" cy="472.9" r="4.3"/><circle cx="293.0" cy="474.4" r="4.3"/><circle cx="294.7" cy="474.0" r="4.3"/><circle cx="296.5" cy="474.8" r="4.3"/><circle cx="298.2" cy="475.1" r="4.3"/><circle cx="299.9" cy="476.3" r="4.3"/><circle cx="301.7" cy="476.9" r="4.3"/><circle cx="303.4" cy="477.0" r="4.3"/><circle cx="305.1" cy="476.8" r="4.3"/><circle cx="306.9" cy="477.0" r="4.3"/><circle cx="308.6" cy="477.0" r="4.3"/><circle cx="310.3" cy="476.1" r="4.3"/><circle cx="312.1" cy="476.6" r="4.3"/><circle cx="313.8" cy="478.1" r="4.3"/><circle cx="315.5" cy="478.5" r="4.3"/><circle cx="317.3" cy="479.4" r="4.3"/><circle cx="319.0" cy="480.7" r="4.3"/><circle cx="320.7" cy="482.9" r="4.3"/><circle cx="322.5" cy="483.6" r="4.3"/><circle cx="324.2" cy="484.8" r="4.3"/></g>
<text x="139.1" y="437.3" text-anchor="end" font-size="19.1" textLength="33.4" lengthAdjust="spacingAndGlyphs">500</text>
<text x="139.1" y="494.3" text-anchor="end" font-size="19.1" textLength="10.9" lengthAdjust="spacingAndGlyphs">0</text>
<text transform="translate(160.6 509.4) rotate(-45)" text-anchor="end" font-size="19.1" textLength="50.4" lengthAdjust="spacingAndGlyphs">01/24</text>
<text transform="translate(202.2 509.4) rotate(-45)" text-anchor="end" font-size="19.1" textLength="50.4" lengthAdjust="spacingAndGlyphs">01/25</text>
<text transform="translate(243.8 509.4) rotate(-45)" text-anchor="end" font-size="19.1" textLength="50.4" lengthAdjust="spacingAndGlyphs">01/26</text>
<text transform="translate(285.4 509.4) rotate(-45)" text-anchor="end" font-size="19.1" textLength="50.4" lengthAdjust="spacingAndGlyphs">01/27</text>
<text transform="translate(327.0 509.4) rotate(-45)" text-anchor="end" font-size="19.1" textLength="50.4" lengthAdjust="spacingAndGlyphs">01/28</text>
<text transform="translate(368.6 509.4) rotate(-45)" text-anchor="end" font-size="19.1" textLength="50.4" lengthAdjust="spacingAndGlyphs">01/29</text>
<text x="251.4" y="576" text-anchor="middle" font-size="19.9" textLength="48.8" lengthAdjust="spacingAndGlyphs">Time</text>
<g transform="translate(86.0 0) rotate(-90)"><text x="-502.7" y="0" font-size="19.9" textLength="51.2" lengthAdjust="spacingAndGlyphs">TERR</text><text x="-451.7" y="10.0" font-size="15.1" textLength="16.6" lengthAdjust="spacingAndGlyphs">M</text><text x="-435.2" y="0" font-size="19.9" textLength="23.2" lengthAdjust="spacingAndGlyphs">SL</text></g>
<g stroke="#dfdfdf" stroke-width="2"><line x1="531.90" y1="427.50" x2="531.90" y2="487.10"/><line x1="573.50" y1="427.50" x2="573.50" y2="487.10"/><line x1="615.10" y1="427.50" x2="615.10" y2="487.10"/><line x1="656.70" y1="427.50" x2="656.70" y2="487.10"/><line x1="490.30" y1="457.30" x2="698.30" y2="457.30"/></g>
<g stroke="#b8b8b8" stroke-width="2.2" stroke-dasharray="1.1 4.45"><line x1="491.50" y1="481.64" x2="698.30" y2="481.64"/><line x1="491.50" y1="475.68" x2="698.30" y2="475.68"/><line x1="491.50" y1="469.72" x2="698.30" y2="469.72"/><line x1="491.50" y1="463.76" x2="698.30" y2="463.76"/><line x1="491.50" y1="451.84" x2="698.30" y2="451.84"/><line x1="491.50" y1="445.88" x2="698.30" y2="445.88"/><line x1="491.50" y1="439.92" x2="698.30" y2="439.92"/><line x1="491.50" y1="433.96" x2="698.30" y2="433.96"/></g>
<path d="M490.30 487.10v-3M490.30 427.50v3M531.90 487.10v-3M531.90 427.50v3M573.50 487.10v-3M573.50 427.50v3M615.10 487.10v-3M615.10 427.50v3M656.70 487.10v-3M656.70 427.50v3M698.30 487.10v-3M698.30 427.50v3M490.30 427.50h3M698.30 427.50h-3M490.30 457.30h3M698.30 457.30h-3M490.30 487.10h3M698.30 487.10h-3" stroke="#262626" stroke-width="1.6" fill="none"/>
<rect x="490.30" y="427.50" width="208.00" height="59.60" fill="none" stroke="#262626" stroke-width="1.9"/>
<g fill="none" stroke="#0072BD" stroke-width="2.15"><circle cx="501.1" cy="487.1" r="4.3"/><circle cx="502.8" cy="487.1" r="4.3"/><circle cx="504.6" cy="487.1" r="4.3"/><circle cx="506.3" cy="487.1" r="4.3"/><circle cx="508.0" cy="487.1" r="4.3"/><circle cx="509.8" cy="487.1" r="4.3"/><circle cx="511.5" cy="487.1" r="4.3"/><circle cx="513.2" cy="487.1" r="4.3"/><circle cx="515.0" cy="487.1" r="4.3"/><circle cx="516.7" cy="487.1" r="4.3"/><circle cx="518.4" cy="487.1" r="4.3"/><circle cx="520.2" cy="487.1" r="4.3"/><circle cx="521.9" cy="487.1" r="4.3"/><circle cx="523.6" cy="487.1" r="4.3"/><circle cx="525.4" cy="487.1" r="4.3"/><circle cx="527.1" cy="487.1" r="4.3"/><circle cx="528.8" cy="487.1" r="4.3"/><circle cx="530.6" cy="487.1" r="4.3"/><circle cx="532.3" cy="487.1" r="4.3"/><circle cx="534.0" cy="487.1" r="4.3"/><circle cx="535.8" cy="487.1" r="4.3"/><circle cx="537.5" cy="487.1" r="4.3"/><circle cx="539.2" cy="487.1" r="4.3"/><circle cx="541.0" cy="487.1" r="4.3"/><circle cx="542.7" cy="487.1" r="4.3"/><circle cx="544.4" cy="487.1" r="4.3"/><circle cx="546.2" cy="487.1" r="4.3"/><circle cx="547.9" cy="487.1" r="4.3"/><circle cx="549.6" cy="487.1" r="4.3"/><circle cx="551.4" cy="487.1" r="4.3"/><circle cx="553.1" cy="487.1" r="4.3"/><circle cx="554.8" cy="487.1" r="4.3"/><circle cx="556.6" cy="487.1" r="4.3"/><circle cx="558.3" cy="487.1" r="4.3"/><circle cx="560.0" cy="487.1" r="4.3"/><circle cx="561.8" cy="487.1" r="4.3"/><circle cx="563.5" cy="487.1" r="4.3"/><circle cx="565.2" cy="487.1" r="4.3"/><circle cx="567.0" cy="487.1" r="4.3"/><circle cx="568.7" cy="487.1" r="4.3"/><circle cx="570.4" cy="487.1" r="4.3"/><circle cx="572.2" cy="487.1" r="4.3"/><circle cx="573.9" cy="487.1" r="4.3"/><circle cx="575.6" cy="487.1" r="4.3"/><circle cx="577.4" cy="487.1" r="4.3"/><circle cx="579.1" cy="487.1" r="4.3"/><circle cx="580.8" cy="487.1" r="4.3"/><circle cx="582.6" cy="487.1" r="4.3"/><circle cx="584.3" cy="487.1" r="4.3"/><circle cx="586.0" cy="487.1" r="4.3"/><circle cx="587.8" cy="487.1" r="4.3"/><circle cx="589.5" cy="487.1" r="4.3"/><circle cx="588.4" cy="481.2" r="4.3"/><circle cx="590.9" cy="475.3" r="4.3"/><circle cx="595.1" cy="469.5" r="4.3"/><circle cx="595.9" cy="472.8" r="4.3"/><circle cx="597.6" cy="475.3" r="4.3"/><circle cx="599.2" cy="478.7" r="4.3"/><circle cx="600.9" cy="481.2" r="4.3"/><circle cx="602.6" cy="483.0" r="4.3"/><circle cx="604.3" cy="484.5" r="4.3"/><circle cx="606.0" cy="485.6" r="4.3"/><circle cx="607.6" cy="486.2" r="4.3"/><circle cx="608.4" cy="487.1" r="4.3"/><circle cx="610.1" cy="487.1" r="4.3"/><circle cx="611.8" cy="487.1" r="4.3"/><circle cx="613.6" cy="487.1" r="4.3"/><circle cx="615.3" cy="487.1" r="4.3"/><circle cx="617.0" cy="487.1" r="4.3"/><circle cx="618.8" cy="487.1" r="4.3"/><circle cx="620.5" cy="487.1" r="4.3"/><circle cx="622.2" cy="487.1" r="4.3"/><circle cx="624.0" cy="487.1" r="4.3"/><circle cx="625.7" cy="487.1" r="4.3"/><circle cx="626.8" cy="480.3" r="4.3"/><circle cx="628.5" cy="473.6" r="4.3"/><circle cx="630.5" cy="466.1" r="4.3"/><circle cx="632.7" cy="456.1" r="4.3"/><circle cx="634.3" cy="444.4" r="4.3"/><circle cx="636.3" cy="433.5" r="4.3"/><circle cx="638.5" cy="444.4" r="4.3"/><circle cx="640.2" cy="456.1" r="4.3"/><circle cx="641.5" cy="466.1" r="4.3"/><circle cx="643.2" cy="469.5" r="4.3"/><circle cx="644.9" cy="472.8" r="4.3"/><circle cx="646.5" cy="476.2" r="4.3"/><circle cx="648.5" cy="480.3" r="4.3"/><circle cx="650.2" cy="483.7" r="4.3"/><circle cx="651.8" cy="487.1" r="4.3"/><circle cx="653.5" cy="487.1" r="4.3"/><circle cx="655.3" cy="487.1" r="4.3"/><circle cx="657.0" cy="487.1" r="4.3"/><circle cx="658.7" cy="487.1" r="4.3"/><circle cx="660.5" cy="487.1" r="4.3"/><circle cx="662.2" cy="487.1" r="4.3"/><circle cx="663.9" cy="487.1" r="4.3"/><circle cx="665.7" cy="487.1" r="4.3"/><circle cx="667.4" cy="487.1" r="4.3"/></g>
<text x="482.0" y="433.6" text-anchor="end" font-size="19.1" textLength="32.5" lengthAdjust="spacingAndGlyphs">100</text>
<text x="482.0" y="463.8" text-anchor="end" font-size="19.1" textLength="22.6" lengthAdjust="spacingAndGlyphs">50</text>
<text x="482.0" y="494.1" text-anchor="end" font-size="19.1" textLength="10.9" lengthAdjust="spacingAndGlyphs">0</text>
<text transform="translate(503.5 509.4) rotate(-45)" text-anchor="end" font-size="19.1" textLength="50.4" lengthAdjust="spacingAndGlyphs">01/24</text>
<text transform="translate(545.1 509.4) rotate(-45)" text-anchor="end" font-size="19.1" textLength="50.4" lengthAdjust="spacingAndGlyphs">01/25</text>
<text transform="translate(586.7 509.4) rotate(-45)" text-anchor="end" font-size="19.1" textLength="50.4" lengthAdjust="spacingAndGlyphs">01/26</text>
<text transform="translate(628.3 509.4) rotate(-45)" text-anchor="end" font-size="19.1" textLength="50.4" lengthAdjust="spacingAndGlyphs">01/27</text>
<text transform="translate(669.9 509.4) rotate(-45)" text-anchor="end" font-size="19.1" textLength="50.4" lengthAdjust="spacingAndGlyphs">01/28</text>
<text transform="translate(711.5 509.4) rotate(-45)" text-anchor="end" font-size="19.1" textLength="50.4" lengthAdjust="spacingAndGlyphs">01/29</text>
<text x="594.3" y="576" text-anchor="middle" font-size="19.9" textLength="48.8" lengthAdjust="spacingAndGlyphs">Time</text>
<g transform="translate(399.0 0) rotate(-90)"><text x="-504.2" y="0" font-size="19.9" textLength="41.3" lengthAdjust="spacingAndGlyphs">SUN</text><text x="-457.9" y="10.0" font-size="15.1" textLength="8.8" lengthAdjust="spacingAndGlyphs">F</text><text x="-449.4" y="0" font-size="19.9" textLength="38.8" lengthAdjust="spacingAndGlyphs">LUX</text></g>
</svg>
</body></html>
